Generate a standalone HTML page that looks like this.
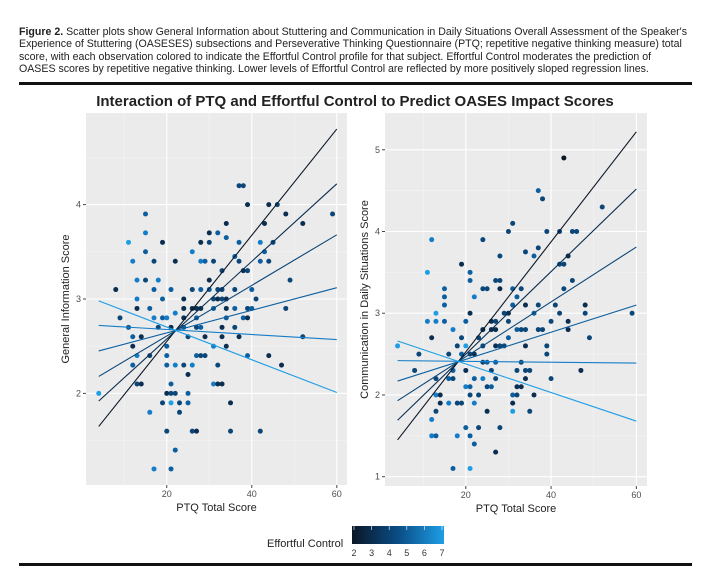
<!DOCTYPE html>
<html><head><meta charset="utf-8">
<style>
body{margin:0;background:#fff;width:711px;height:583px;overflow:hidden;font-family:"Liberation Sans",sans-serif;}
#cap{position:absolute;left:19px;top:26px;width:690px;font-size:10.6px;line-height:12.3px;color:#222;white-space:nowrap;}
</style></head>
<body>
<div id="cap"><b>Figure 2.</b> Scatter plots show General Information about Stuttering and Communication in Daily Situations Overall Assessment of the Speaker's<br>Experience of Stuttering (OASESES) subsections and Perseverative Thinking Questionnaire (PTQ; repetitive negative thinking measure) total<br>score, with each observation colored to indicate the Effortful Control profile for that subject. Effortful Control moderates the prediction of<br>OASES scores by repetitive negative thinking. Lower levels of Effortful Control are reflected by more positively sloped regression lines.</div>
<svg id="chart" width="711" height="583" style="position:absolute;left:0;top:0">
<defs><linearGradient id="grad" x1="0" x2="1" y1="0" y2="0"><stop offset="0" stop-color="#0b1626"/><stop offset="0.5" stop-color="#0a4d85"/><stop offset="1" stop-color="#1e9ee6"/></linearGradient></defs>
<rect x="19" y="82" width="673" height="3" fill="#111"/>
<rect x="19" y="563" width="673" height="3" fill="#111"/>
<text x="355" y="106" text-anchor="middle" font-size="15" font-weight="bold" fill="#222">Interaction of PTQ and Effortful Control to Predict OASES Impact Scores</text>
<text x="267" y="547" font-size="11" fill="#222">Effortful Control</text>
<rect x="352" y="526" width="92" height="18" fill="url(#grad)"/>
<g id="legendTicks"></g>
</svg>
<script>
// ---- data ----
const lineEC=[2,3,4,5,6,7];
const gi_lineStart=[1.65,1.92,2.18,2.45,2.72,2.98];
const gi_lineEnd=[4.80,4.22,3.68,3.12,2.57,2.01];
const cd_lineStart=[1.45,1.69,1.93,2.17,2.42,2.66];
const cd_lineEnd=[5.22,4.52,3.81,3.10,2.39,1.68];
const lineX=[4,60];
const xTicks=[20,40,60];
const giTicks=[2,3,4];
const cdTicks=[1,2,3,4,5];
const legendTicks=[2,3,4,5,6,7];
const giPTQ=[4,8,9,11,11,12,12,12,12,13,13,13,13,13,14,14,15,15,15,15,16,16,16,17,17,17,17,18,18,19,19,19,19,20,20,20,20,20,20,21,21,21,21,21,21,22,22,22,22,22,23,23,24,24,24,24,24,25,25,25,25,26,26,26,26,26,27,27,27,27,27,28,28,28,28,28,28,29,29,29,30,30,30,30,31,31,31,31,31,32,32,32,32,32,33,33,33,33,33,33,34,34,34,34,34,34,35,35,36,36,36,36,37,37,37,37,38,38,38,39,39,39,39,39,40,40,41,42,42,42,43,43,44,44,44,45,46,47,48,48,49,52,52,59];
const giScore=[2.0,3.1,2.8,3.6,2.7,3.4,2.6,2.5,2.3,3.2,3.0,2.9,2.4,2.1,2.6,2.1,3.9,3.7,3.5,3.2,2.9,2.4,1.8,3.4,3.1,2.8,1.2,3.2,2.7,3.6,3.0,2.8,1.9,2.8,2.5,2.4,2.3,2.0,1.6,3.1,2.7,2.1,2.0,1.9,1.2,3.4,2.85,2.3,2.0,1.4,1.9,1.8,3.0,2.9,2.8,2.7,2.3,2.6,2.2,2.0,1.9,3.5,3.1,2.9,2.3,1.6,2.9,2.8,2.7,2.4,1.6,3.6,3.4,3.1,2.9,2.7,2.4,3.4,2.6,2.4,3.7,3.6,3.2,3.1,3.4,3.0,2.9,2.5,2.1,3.7,3.1,3.0,2.3,2.1,3.3,3.1,3.0,2.7,2.6,2.1,3.8,3.65,3.0,2.9,2.8,2.5,1.9,1.6,3.45,3.1,2.9,2.7,4.2,3.6,3.4,2.6,4.2,3.3,2.8,4.0,3.3,2.9,2.8,2.4,3.1,2.9,3.0,3.6,3.4,1.6,3.8,3.5,4.0,3.4,2.4,3.6,4.0,2.3,3.9,2.9,3.2,3.8,2.6,3.9];
const giEC=[7,3,4,7,5,6,5,3,5,6,6,3,6,4,3,3,5,6,5,4,5,4,6,4,5,6,6,6,4,3,5,5,4,6,5,5,5,3,4,5,3,5,4,7,5,3,6,6,4,5,4,4,3,3,3,5,4,4,3,5,5,6,4,3,6,4,3,5,4,5,3,3,6,5,3,5,4,5,3,4,3,4,3,5,4,4,5,6,6,5,4,3,4,3,4,4,4,3,3,3,3,5,3,3,5,3,3,4,5,4,5,4,4,5,4,3,4,3,5,3,4,4,3,5,5,5,4,6,5,4,3,5,3,4,3,4,4,3,3,4,4,3,4,4];
const cdPTQ=[4,8,9,11,11,12,12,12,12,13,13,13,13,13,13,14,14,15,15,15,15,16,16,16,17,17,17,17,18,18,18,19,19,19,19,20,20,20,20,20,21,21,21,21,21,21,21,21,22,22,22,22,22,23,23,23,24,24,24,24,24,24,25,25,25,25,26,26,26,26,27,27,27,27,27,27,27,28,28,28,28,28,29,29,30,30,30,30,31,31,31,31,31,31,32,32,32,32,32,33,33,33,33,34,34,34,34,34,34,35,35,36,36,36,37,37,37,37,38,38,39,39,39,40,40,41,42,42,42,43,43,43,44,44,44,45,45,46,47,48,48,49,52,59];
const cdScore=[2.6,2.3,2.5,3.5,2.9,3.9,2.7,1.7,1.5,3.0,2.9,2.2,2.0,1.8,1.5,2.0,1.9,3.3,3.2,3.1,2.9,2.5,2.2,1.9,2.8,2.3,2.2,1.1,2.6,1.9,1.5,3.6,2.7,2.5,1.9,2.9,2.6,2.3,2.1,1.6,3.5,3.4,3.0,2.5,2.1,2.0,1.5,1.1,3.2,2.5,2.2,1.9,1.4,2.7,2.0,1.6,3.9,3.3,2.8,2.6,2.4,2.2,3.3,2.4,2.1,1.8,2.9,2.8,2.3,2.1,3.4,2.9,2.8,2.6,2.4,2.2,1.3,3.7,3.4,3.3,2.6,1.6,3.0,2.6,4.0,3.0,2.9,2.7,4.1,3.3,3.1,2.0,1.9,1.8,3.2,2.8,2.3,2.1,2.0,3.3,2.8,2.4,2.1,3.75,3.1,2.8,2.6,2.3,2.2,2.3,1.8,3.7,3.0,2.0,4.5,3.8,3.1,2.8,4.4,2.8,4.0,2.6,2.5,2.9,2.2,3.1,4.0,3.6,3.0,4.9,3.6,3.3,3.7,2.9,2.8,4.0,3.4,4.0,2.3,3.1,3.0,2.7,4.3,3.0];
const cdEC=[7,4,4,7,6,6,3,6,6,7,6,4,6,4,5,3,3,5,5,5,5,4,5,6,6,5,4,5,4,4,6,3,4,5,4,5,7,3,6,5,5,5,3,4,5,4,5,7,6,3,5,6,5,4,4,4,4,4,3,4,4,6,4,5,4,3,3,3,4,5,4,4,3,3,5,4,3,4,4,3,4,4,4,4,4,3,4,5,4,5,5,5,3,7,5,5,4,3,4,4,4,4,3,4,3,4,3,4,3,4,4,5,5,3,5,4,4,4,4,4,4,4,4,4,4,4,4,4,4,2,4,4,3,3,3,4,4,4,3,3,4,4,4,4];

const NS="http://www.w3.org/2000/svg";
const svg=document.getElementById('chart');
function ecColor(v){
  const stops=[[2,[11,22,38]],[3,[10,45,80]],[4,[10,70,120]],[5,[11,95,160]],[6,[20,125,200]],[7,[30,158,230]]];
  for(let i=0;i<stops.length-1;i++){if(v<=stops[i+1][0]){const t=(v-stops[i][0]);const a=stops[i][1],b=stops[i+1][1];return `rgb(${Math.round(a[0]+(b[0]-a[0])*t)},${Math.round(a[1]+(b[1]-a[1])*t)},${Math.round(a[2]+(b[2]-a[2])*t)})`;}}
  return 'rgb(30,158,230)';
}
function mk(tag,attrs,parent){const e=document.createElementNS(NS,tag);for(const k in attrs)e.setAttribute(k,attrs[k]);(parent||svg).appendChild(e);return e;}

function panel(cfg){
  const {L,R,T,B,x0,x1,y0,y1,yTicks,ptq,score,ec,ls,le,ytitle,ytx,name}=cfg;
  const sx=v=>L+(v-x0)/(x1-x0)*(R-L);
  const sy=v=>B-(v-y0)/(y1-y0)*(B-T);
  const g=mk('g',{});
  
  
  const bg=mk('rect',{x:L,y:T,width:R-L,height:B-T,fill:'#ebebeb'},g);
  
  
  [10,30,50].forEach(v=>{const l=mk('line',{x1:sx(v),x2:sx(v),y1:T,y2:B,stroke:'#f5f5f5','stroke-width':0.6},g);});
  for(let v=Math.ceil(y0*2)/2;v<=y1;v+=0.5){if(Math.abs(v-Math.round(v))>0.01){const l=mk('line',{x1:L,x2:R,y1:sy(v),y2:sy(v),stroke:'#f5f5f5','stroke-width':0.6},g);}}
  xTicks.forEach(v=>{const l=mk('line',{x1:sx(v),x2:sx(v),y1:T,y2:B,stroke:'#fff','stroke-width':1.1},g);
    const tk=mk('line',{x1:sx(v),x2:sx(v),y1:B,y2:B+3,stroke:'#444'},g);
    const t=mk('text',{x:sx(v),y:B+12,'text-anchor':'middle','font-size':9,fill:'#4d4d4d'},g);t.textContent=v;});
  yTicks.forEach(v=>{const l=mk('line',{x1:L,x2:R,y1:sy(v),y2:sy(v),stroke:'#fff','stroke-width':1.1},g);
    const tk=mk('line',{x1:L-3,x2:L,y1:sy(v),y2:sy(v),stroke:'#444'},g);
    const t=mk('text',{x:L-5,y:sy(v)+3,'text-anchor':'end','font-size':9,fill:'#4d4d4d'},g);t.textContent=v;});
  ptq.forEach((p,i)=>{const c=mk('circle',{cx:sx(p),cy:sy(score[i]),r:2.5,fill:ecColor(ec[i])},g);});
  lineEC.forEach((e,i)=>{const l=mk('line',{x1:sx(lineX[0]),y1:sy(ls[i]),x2:sx(lineX[1]),y2:sy(le[i]),stroke:ecColor(e),'stroke-width':1.1},g);});
  const xt=mk('text',{x:(L+R)/2,y:B+26,'text-anchor':'middle','font-size':11,fill:'#222'},g);xt.textContent='PTQ Total Score';
  
  const yt=mk('text',{x:ytx,y:(T+B)/2,'text-anchor':'middle','font-size':11,fill:'#222',transform:`rotate(-90 ${ytx} ${(T+B)/2})`},g);yt.textContent=ytitle;
  
}
panel({L:86,R:347,T:113,B:485,x0:1.0,x1:62.4,y0:1.03,y1:4.97,yTicks:giTicks,ptq:giPTQ,score:giScore,ec:giEC,ls:gi_lineStart,le:gi_lineEnd,ytitle:'General Information Score',ytx:69,name:'general-information-panel'});
panel({L:385,R:647,T:113,B:486,x0:1.05,x1:62.5,y0:0.886,y1:5.45,yTicks:cdTicks,ptq:cdPTQ,score:cdScore,ec:cdEC,ls:cd_lineStart,le:cd_lineEnd,ytitle:'Communication in Daily Situations Score',ytx:368,name:'communication-panel'});
const lg=document.getElementById('legendTicks');
legendTicks.forEach(v=>{const x=354+(v-2)/5*88;
  const t=mk('text',{x:x,y:556,'text-anchor':'middle','font-size':9,fill:'#333'},lg);t.textContent=v;
  
  const l=mk('line',{x1:x,x2:x,y1:526,y2:530,stroke:'#fff','stroke-width':0.6},lg);
  });
</script>
</body></html>
